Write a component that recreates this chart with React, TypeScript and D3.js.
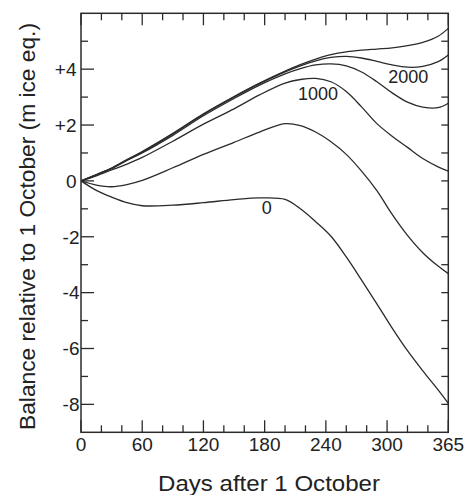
import React from "react";
import * as d3 from "d3";

const days = [0, 15, 30, 45, 60, 90, 120, 150, 175, 200, 215, 230, 245, 260, 275, 290, 305, 320, 335, 350, 360];

const curve0 = [0, -0.34, -0.58, -0.78, -0.89, -0.87, -0.78, -0.67, -0.61, -0.66, -1.0, -1.46, -1.98, -2.72, -3.55, -4.4, -5.27, -6.08, -6.8, -7.48, -7.96];
const curve500 = [0, -0.15, -0.21, -0.13, 0.02, 0.47, 0.95, 1.38, 1.75, 2.05, 1.98, 1.75, 1.4, 0.95, 0.35, -0.35, -1.2, -1.95, -2.57, -3.05, -3.32];
const curve1000 = [0, 0.18, 0.39, 0.6, 0.84, 1.42, 2.03, 2.58, 3.08, 3.5, 3.63, 3.67, 3.55, 3.2, 2.65, 2.05, 1.6, 1.2, 0.8, 0.5, 0.35];
const curve1500 = [0, 0.21, 0.44, 0.73, 1.0, 1.63, 2.33, 2.95, 3.43, 3.83, 4.02, 4.15, 4.19, 4.12, 3.9, 3.55, 3.15, 2.82, 2.64, 2.62, 2.78];
const curve2000 = [0, 0.22, 0.45, 0.75, 1.03, 1.68, 2.38, 3.0, 3.48, 3.9, 4.12, 4.3, 4.42, 4.46, 4.4, 4.28, 4.15, 4.07, 4.1, 4.27, 4.51];
const curve2500 = [0, 0.23, 0.46, 0.76, 1.05, 1.7, 2.4, 3.02, 3.5, 3.93, 4.16, 4.36, 4.52, 4.62, 4.68, 4.72, 4.76, 4.84, 4.96, 5.18, 5.46];

const allCurves = [curve0, curve500, curve1000, curve1500, curve2000, curve2500];

const curveLabels = ["0", "1000", "2000"];
const curveLabelDays = [182, 232.3, 320.8];
const curveLabelValues = [-1.185, 2.9, 3.49];

const xMajorTicks = [0, 60, 120, 180, 240, 300, 360];
const xTickLabels = ["0", "60", "120", "180", "240", "300", "365"];
const xMinorTicks = [20, 40, 80, 100, 140, 160, 200, 220, 260, 280, 320, 340];
const yMajorTicks = [-8, -6, -4, -2, 0, 2, 4];
const yTickLabels = ["-8", "-6", "-4", "-2", "0", "+2", "+4"];
const yMinorTicks = [-7, -5, -3, -1, 1, 3, 5];
const yRightTicks = [-8, -7, -6, -5, -4, -3, -2, -1, 0, 1, 2, 3, 4, 5];

const xTitle = "Days after 1 October";
const yTitle = "Balance relative to 1 October (m ice eq.)";

export default function App() {
  const W = 470;
  const H = 495;
  const left = 81;
  const right = 448.3;
  const top = 13.3;
  const bottom = 432.3;
  const x = d3.scaleLinear().domain([0, 360]).range([left, right]);
  const y = d3.scaleLinear().domain([-9, 6]).range([bottom, top]);
  const line = d3
    .line<number>()
    .x((_, i) => x(days[i]))
    .y((d) => y(d))
    .curve(d3.curveCatmullRom.alpha(0.5));

  const ink = "#2b2b2b";
  const font = "'Liberation Sans', Arial, Helvetica, sans-serif";

  return (
    <svg
      width={W}
      height={H}
      style={{ position: "absolute", left: 0, top: 0, display: "block", background: "#fff" }}
      fontFamily={font}
    >
      <rect x={0} y={0} width={W} height={H} fill="#fff" />
      <defs>
        <clipPath id="plotclip">
          <rect x={left} y={top} width={right - left} height={bottom - top} />
        </clipPath>
      </defs>
      <g clipPath="url(#plotclip)">
        {allCurves.map((c, i) => (
          <path key={i} d={line(c) || ""} fill="none" stroke={ink} strokeWidth={1.3} />
        ))}
      </g>
      {/* frame */}
      <rect x={left} y={top} width={right - left} height={bottom - top} fill="none" stroke={ink} strokeWidth={1.5} />
      {/* bottom & top ticks */}
      {xMajorTicks.map((t) => (
        <g key={"xM" + t}>
          <line x1={x(t)} x2={x(t)} y1={bottom} y2={bottom - 12} stroke={ink} strokeWidth={1.3} />
          <line x1={x(t)} x2={x(t)} y1={top} y2={top + 12} stroke={ink} strokeWidth={1.3} />
        </g>
      ))}
      {xMinorTicks.map((t) => (
        <g key={"xm" + t}>
          <line x1={x(t)} x2={x(t)} y1={bottom} y2={bottom - 7} stroke={ink} strokeWidth={1.3} />
          <line x1={x(t)} x2={x(t)} y1={top} y2={top + 7} stroke={ink} strokeWidth={1.3} />
        </g>
      ))}
      {/* left ticks */}
      {yMajorTicks.map((t) => (
        <line key={"yM" + t} x1={left} x2={left + 13} y1={y(t)} y2={y(t)} stroke={ink} strokeWidth={1.3} />
      ))}
      {yMinorTicks.map((t) => (
        <line key={"ym" + t} x1={left} x2={left + 7} y1={y(t)} y2={y(t)} stroke={ink} strokeWidth={1.3} />
      ))}
      {/* right ticks */}
      {yRightTicks.map((t) => (
        <line key={"yr" + t} x1={right} x2={right - 7} y1={y(t)} y2={y(t)} stroke={ink} strokeWidth={1.3} />
      ))}
      {/* x tick labels */}
      {xMajorTicks.map((t, i) => (
        <text key={"xl" + t} x={x(t)} y={450.7} textAnchor="middle" fontSize={19} fill="#222">
          {xTickLabels[i]}
        </text>
      ))}
      {/* y tick labels */}
      {yMajorTicks.map((t, i) => (
        <text
          key={"yl" + t}
          x={t < 0 ? 79.5 : 76.5}
          y={y(t) + 6.8}
          textAnchor="end"
          fontSize={19}
          fill="#222"
        >
          {yTickLabels[i]}
        </text>
      ))}
      {/* curve labels */}
      {curveLabels.map((l, i) => (
        <text
          key={"cl" + l}
          x={x(curveLabelDays[i])}
          y={y(curveLabelValues[i])}
          textAnchor="middle"
          fontSize={18}
          fill="#222"
        >
          {l}
        </text>
      ))}
      {/* axis titles */}
      <text x={269} y={491} textAnchor="middle" fontSize={22} fill="#222" textLength={222} lengthAdjust="spacingAndGlyphs">
        {xTitle}
      </text>
      <text
        transform={`translate(34.5, 226.5) rotate(-90)`}
        textAnchor="middle"
        fontSize={22}
        fill="#222"
        textLength={407}
        lengthAdjust="spacingAndGlyphs"
      >
        {yTitle}
      </text>
    </svg>
  );
}
